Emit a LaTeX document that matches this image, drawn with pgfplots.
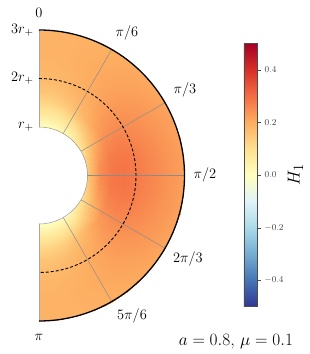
\documentclass[border=0pt]{standalone}
\usepackage{pgfplots}
\pgfplotsset{compat=1.18}
\usepackage{pgfplotstable}
\pgfplotsset{colormap={RdYlBur}{rgb255=(49,54,149) rgb255=(69,117,180) rgb255=(116,173,209) rgb255=(171,217,233) rgb255=(224,243,248) rgb255=(255,255,191) rgb255=(254,224,144) rgb255=(253,174,97) rgb255=(244,109,67) rgb255=(215,48,39) rgb255=(165,0,38)}}
\pgfplotstableread{
phi r h
90 1 0.000
90 1.25 0.070
90 1.5 0.120
90 1.75 0.155
90 2 0.175
90 2.25 0.185
90 2.5 0.190
90 2.75 0.190
90 3 0.190
82.5 1 0.000
82.5 1.25 0.070
82.5 1.5 0.123
82.5 1.75 0.157
82.5 2 0.177
82.5 2.25 0.186
82.5 2.5 0.191
82.5 2.75 0.191
82.5 3 0.191
75 1 0.003
75 1.25 0.073
75 1.5 0.131
75 1.75 0.164
75 2 0.182
75 2.25 0.190
75 2.5 0.194
75 2.75 0.193
75 3 0.192
67.5 1 0.008
67.5 1.25 0.080
67.5 1.5 0.144
67.5 1.75 0.175
67.5 2 0.190
67.5 2.25 0.197
67.5 2.5 0.199
67.5 2.75 0.197
67.5 3 0.194
60 1 0.019
60 1.25 0.093
60 1.5 0.161
60 1.75 0.189
60 2 0.201
60 2.25 0.205
60 2.5 0.205
60 2.75 0.201
60 3 0.198
52.5 1 0.034
52.5 1.25 0.111
52.5 1.5 0.181
52.5 1.75 0.205
52.5 2 0.214
52.5 2.25 0.215
52.5 2.5 0.212
52.5 2.75 0.207
52.5 3 0.201
45 1 0.053
45 1.25 0.134
45 1.5 0.203
45 1.75 0.223
45 2 0.228
45 2.25 0.225
45 2.5 0.220
45 2.75 0.213
45 3 0.205
37.5 1 0.075
37.5 1.25 0.160
37.5 1.5 0.224
37.5 1.75 0.240
37.5 2 0.241
37.5 2.25 0.235
37.5 2.5 0.228
37.5 2.75 0.218
37.5 3 0.209
30 1 0.097
30 1.25 0.187
30 1.5 0.244
30 1.75 0.256
30 2 0.254
30 2.25 0.245
30 2.5 0.235
30 2.75 0.224
30 3 0.213
22.5 1 0.118
22.5 1.25 0.212
22.5 1.5 0.261
22.5 1.75 0.270
22.5 2 0.265
22.5 2.25 0.253
22.5 2.5 0.241
22.5 2.75 0.228
22.5 3 0.216
15 1 0.135
15 1.25 0.232
15 1.5 0.274
15 1.75 0.281
15 2 0.273
15 2.25 0.260
15 2.5 0.246
15 2.75 0.232
15 3 0.218
7.5 1 0.146
7.5 1.25 0.245
7.5 1.5 0.282
7.5 1.75 0.288
7.5 2 0.278
7.5 2.25 0.264
7.5 2.5 0.249
7.5 2.75 0.234
7.5 3 0.220
0 1 0.150
0 1.25 0.250
0 1.5 0.285
0 1.75 0.290
0 2 0.280
0 2.25 0.265
0 2.5 0.250
0 2.75 0.235
0 3 0.220
-7.5 1 0.146
-7.5 1.25 0.245
-7.5 1.5 0.282
-7.5 1.75 0.288
-7.5 2 0.278
-7.5 2.25 0.264
-7.5 2.5 0.249
-7.5 2.75 0.234
-7.5 3 0.220
-15 1 0.135
-15 1.25 0.232
-15 1.5 0.274
-15 1.75 0.281
-15 2 0.273
-15 2.25 0.260
-15 2.5 0.246
-15 2.75 0.232
-15 3 0.218
-22.5 1 0.118
-22.5 1.25 0.212
-22.5 1.5 0.261
-22.5 1.75 0.270
-22.5 2 0.265
-22.5 2.25 0.253
-22.5 2.5 0.241
-22.5 2.75 0.228
-22.5 3 0.216
-30 1 0.097
-30 1.25 0.187
-30 1.5 0.244
-30 1.75 0.256
-30 2 0.254
-30 2.25 0.245
-30 2.5 0.235
-30 2.75 0.224
-30 3 0.213
-37.5 1 0.075
-37.5 1.25 0.160
-37.5 1.5 0.224
-37.5 1.75 0.240
-37.5 2 0.241
-37.5 2.25 0.235
-37.5 2.5 0.228
-37.5 2.75 0.218
-37.5 3 0.209
-45 1 0.053
-45 1.25 0.134
-45 1.5 0.203
-45 1.75 0.223
-45 2 0.228
-45 2.25 0.225
-45 2.5 0.220
-45 2.75 0.213
-45 3 0.205
-52.5 1 0.034
-52.5 1.25 0.111
-52.5 1.5 0.181
-52.5 1.75 0.205
-52.5 2 0.214
-52.5 2.25 0.215
-52.5 2.5 0.212
-52.5 2.75 0.207
-52.5 3 0.201
-60 1 0.019
-60 1.25 0.093
-60 1.5 0.161
-60 1.75 0.189
-60 2 0.201
-60 2.25 0.205
-60 2.5 0.205
-60 2.75 0.201
-60 3 0.198
-67.5 1 0.008
-67.5 1.25 0.080
-67.5 1.5 0.144
-67.5 1.75 0.175
-67.5 2 0.190
-67.5 2.25 0.197
-67.5 2.5 0.199
-67.5 2.75 0.197
-67.5 3 0.194
-75 1 0.003
-75 1.25 0.073
-75 1.5 0.131
-75 1.75 0.164
-75 2 0.182
-75 2.25 0.190
-75 2.5 0.194
-75 2.75 0.193
-75 3 0.192
-82.5 1 0.000
-82.5 1.25 0.070
-82.5 1.5 0.123
-82.5 1.75 0.157
-82.5 2 0.177
-82.5 2.25 0.186
-82.5 2.5 0.191
-82.5 2.75 0.191
-82.5 3 0.191
-90 1 0.000
-90 1.25 0.070
-90 1.5 0.120
-90 1.75 0.155
-90 2 0.175
-90 2.25 0.185
-90 2.5 0.190
-90 2.75 0.190
-90 3 0.190
}\Hdata
\begin{document}
\begin{tikzpicture}
\useasboundingbox (0,0) rectangle (309pt,354pt);
\begin{axis}[
  at={(39pt,33pt)}, anchor=south west,
  x=48.5pt, y=48.5pt,
  xmin=0, xmax=3, ymin=-3, ymax=3,
  hide axis, clip=false,
  colormap name=RdYlBur,
  point meta min=-0.5, point meta max=0.5,
  colorbar,
  colorbar style={
    at={(parent axis.north east)}, anchor=north west,
    xshift=50.8pt, yshift=-13.3pt,
    width=13.7pt, height=263.4pt,
    ytick={-0.4,-0.2,0,0.2,0.4},
    yticklabel style={font=\fontsize{9}{10}\selectfont, text=black!75,
      /pgf/number format/fixed, /pgf/number format/fixed zerofill,
      /pgf/number format/precision=1},
    tick align=outside, major tick length=3.5pt,
    ytick pos=right,
    axis line style={black!70},
    major tick style={black!70},
    ylabel={$H_1$},
    ylabel style={at={(axis description cs:3.77,0.5)}, anchor=center,
      font=\fontsize{19}{20}\selectfont},
  },
]
\addplot[surf, shader=interp, data cs=polar, point meta=explicit, mesh/cols=9, mesh/rows=25]
  table[x=phi, y=r, meta=h] {\Hdata};
% spokes
\draw[black!45, line width=0.5pt] (axis cs:0.5,0.866) -- (axis cs:1.5,2.598);
\draw[black!45, line width=0.5pt] (axis cs:0.866,0.5) -- (axis cs:2.598,1.5);
\draw[black!45, line width=0.5pt] (axis cs:1,0) -- (axis cs:3,0);
\draw[black!45, line width=0.5pt] (axis cs:0.866,-0.5) -- (axis cs:2.598,-1.5);
\draw[black!45, line width=0.5pt] (axis cs:0.5,-0.866) -- (axis cs:1.5,-2.598);
\draw[black!35, line width=0.5pt] (axis cs:0,1) -- (axis cs:0,3);
\draw[black!35, line width=0.5pt] (axis cs:0,-1) -- (axis cs:0,-3);
\draw[black!40, line width=0.5pt] (axis cs:0,1) arc[start angle=90, end angle=-90, radius=48.5pt];
\draw[black, line width=0.9pt, dash pattern=on 3pt off 2pt] (axis cs:0,2) arc[start angle=90, end angle=-90, radius=97pt];
\draw[black, line width=1.3pt] (axis cs:0,3) arc[start angle=90, end angle=-90, radius=145.5pt];
% labels
\begin{scope}[every node/.style={font=\fontsize{15}{16}\selectfont}]
\node at (axis cs:0,3.35) {$0$};
\node at (axis cs:1.814,2.938) {$\pi/6$};
\node at (axis cs:3.01,1.763) {$\pi/3$};
\node at (axis cs:3.42,0.01) {$\pi/2$};
\node at (axis cs:3.07,-1.72) {$2\pi/3$};
\node at (axis cs:1.918,-2.897) {$5\pi/6$};
\node at (axis cs:0,-3.33) {$\pi$};
\node[anchor=east] at (axis cs:-0.04,3) {$3r_+$};
\node[anchor=east] at (axis cs:-0.04,2) {$2r_+$};
\node[anchor=east] at (axis cs:-0.04,1) {$r_+$};
\end{scope}
\node[anchor=base, font=\fontsize{18}{20}\selectfont] at (axis cs:4.06,-3.495) {$a=0.8$, $\mu=0.1$};
\end{axis}
\end{tikzpicture}
\end{document}
